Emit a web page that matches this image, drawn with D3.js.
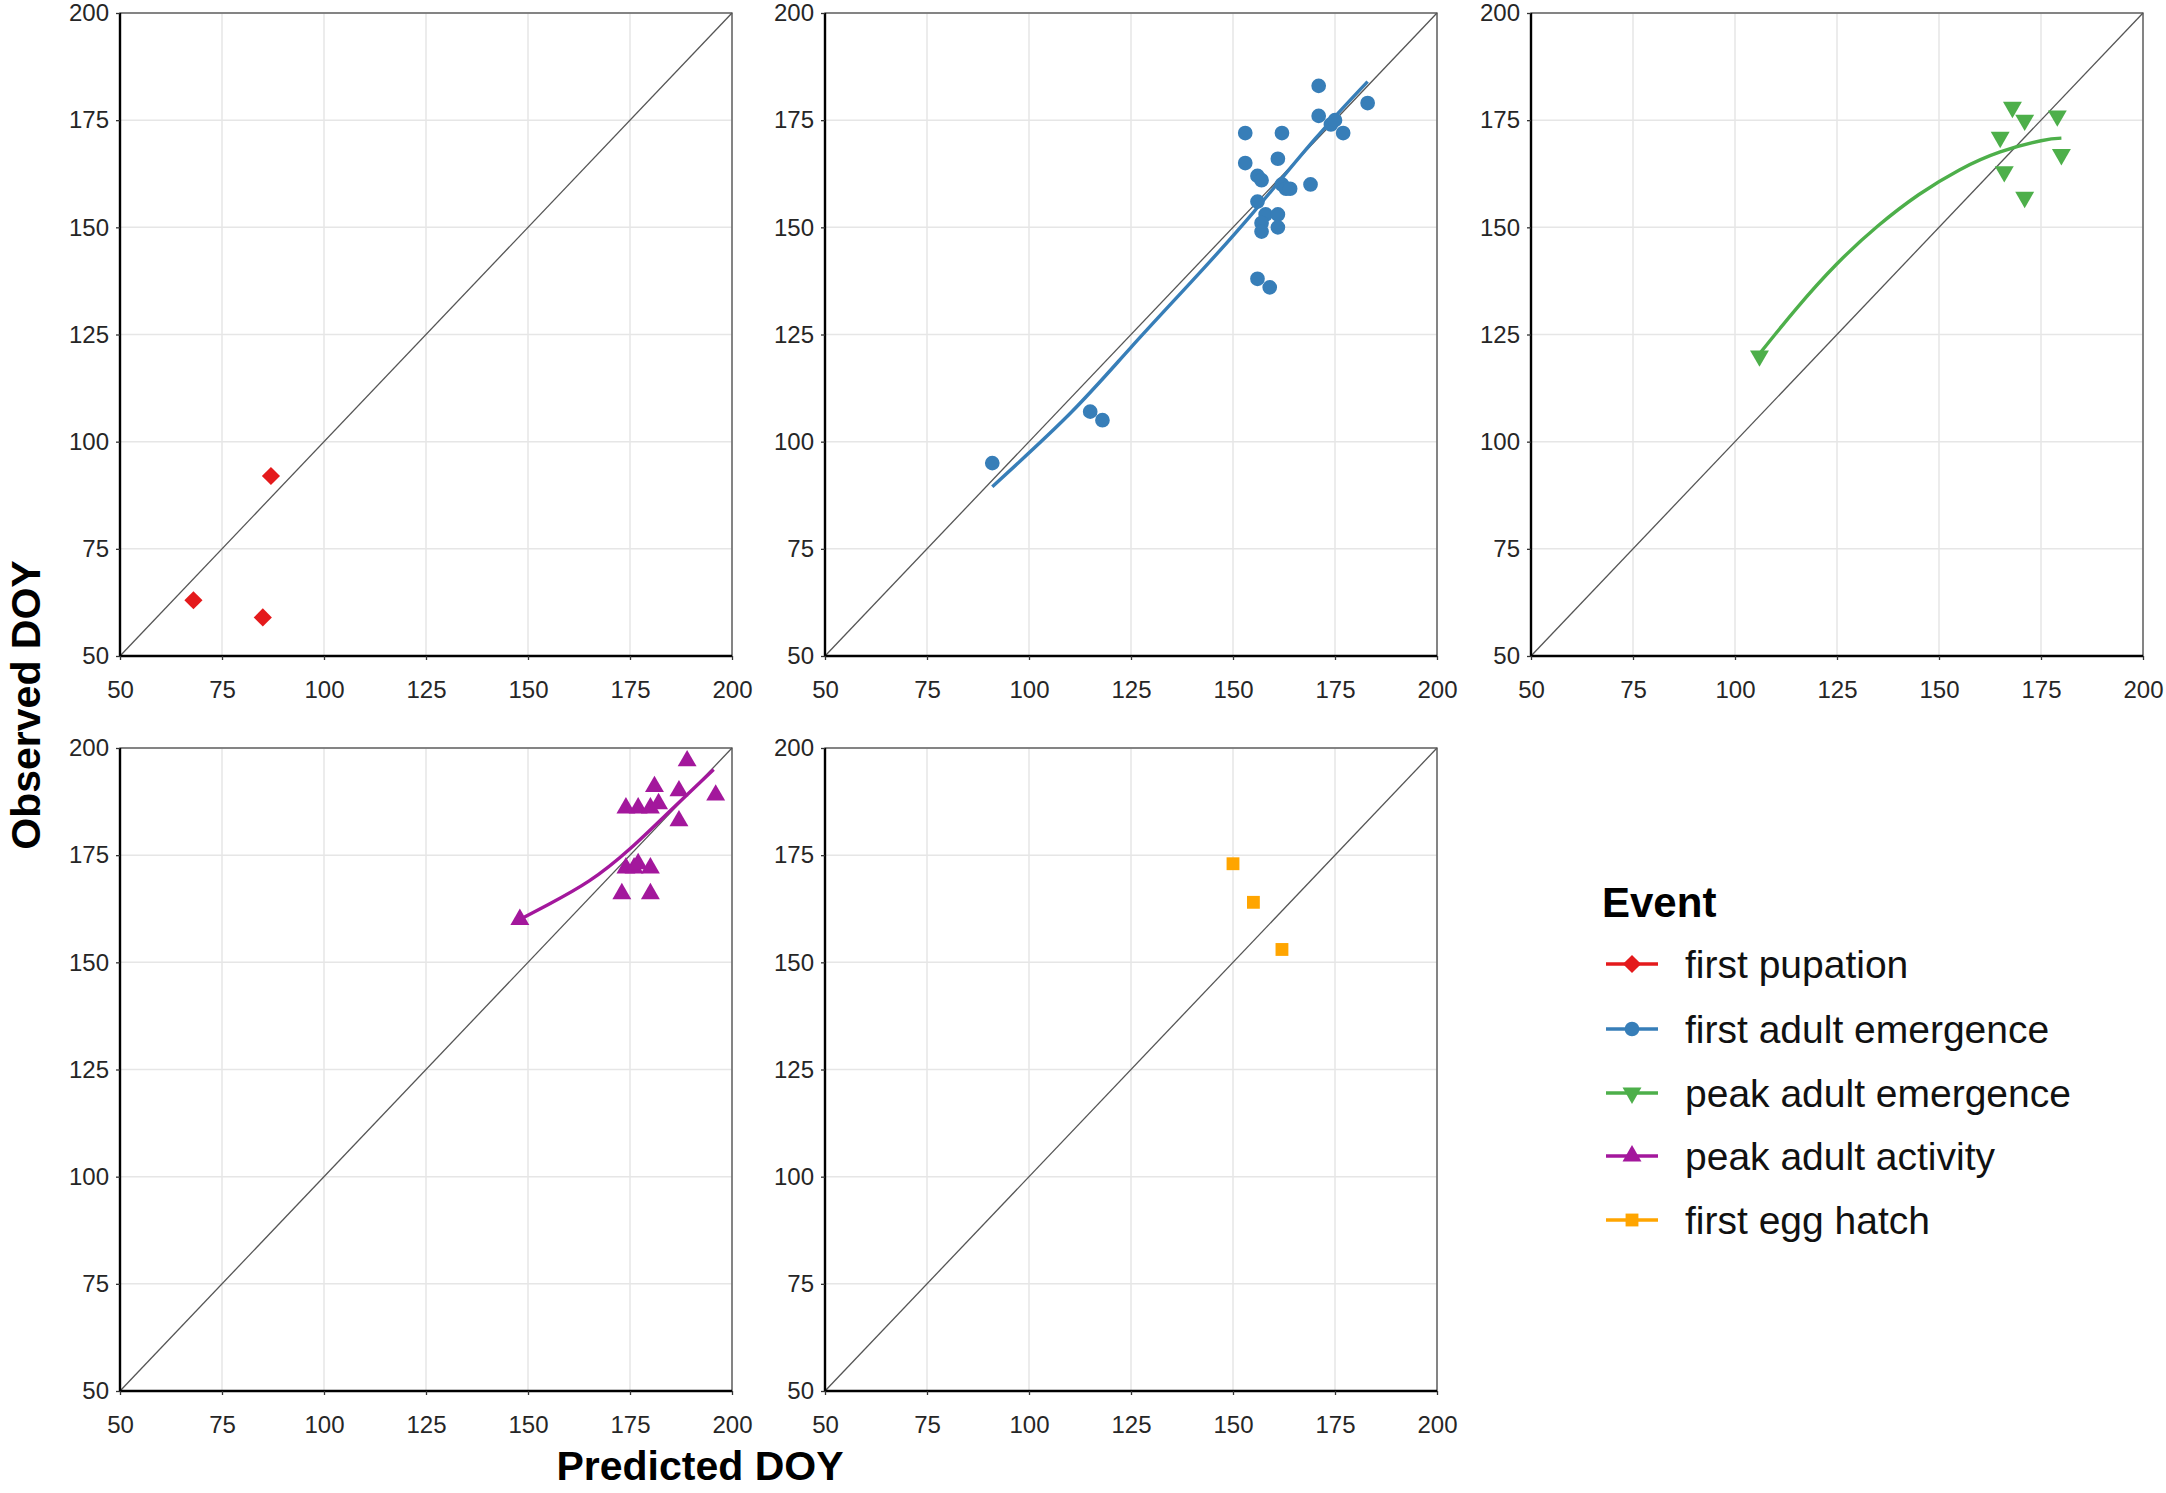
<!DOCTYPE html>
<html>
<head>
<meta charset="utf-8">
<script src="https://cdn.jsdelivr.net/npm/d3@7"></script>
<style>
  body { margin: 0; background: #fff; }
  svg text { font-family: "Liberation Sans", Arial, sans-serif; }
</style>
</head>
<body>
<div id="chart"></div>
<script>
// values
var events = ['first pupation', 'first adult emergence', 'peak adult emergence', 'peak adult activity', 'first egg hatch'];
var eventColors = ['#E41A1C', '#377EB8', '#4DAF4A', '#A3179C', '#FFA500'];
var axisTicks = [50, 75, 100, 125, 150, 175, 200];

// [predicted, observed]
var pupationPts = [[68, 63], [85, 59], [87, 92]];
var adultEmergePts = [
  [91, 95], [115, 107], [118, 105], [153, 172], [153, 165], [156, 162], [157, 161],
  [156, 156], [158, 153], [157, 151], [157, 149], [156, 138], [159, 136], [161, 166],
  [162, 172], [161, 153], [161, 150], [162, 160], [163, 159], [164, 159], [169, 160],
  [171, 183], [171, 176], [174, 174], [175, 175], [177, 172], [183, 179]
];
var peakEmergePts = [[106, 120], [168, 178], [171, 175], [179, 176], [165, 171], [180, 167], [166, 163], [171, 157]];
var peakActivityPts = [
  [148, 160], [189, 197], [181, 191], [187, 190], [196, 189], [174, 186], [177, 186],
  [180, 186], [182, 187], [187, 183], [174, 172], [176, 172], [177, 173], [180, 172],
  [173, 166], [180, 166]
];
var eggHatchPts = [[150, 173], [155, 164], [162, 153]];

// fitted curves
var adultEmergeFit = [[91, 89.5], [110, 106.5], [125, 122], [140, 137.5], [155, 153.5], [170, 170.5], [183, 184]];
var peakEmergeFit = [[106, 120.5], [115, 131], [125, 141.5], [135, 150.3], [145, 157.6], [155, 163.4], [165, 167.6], [175, 170.2], [180, 170.8]];
var peakActivityFit = [[148, 160], [155, 163.5], [165, 169], [175, 176.5], [185, 185.5], [195.5, 195]];

var width = 2166, height = 1493;
var panelW = 612, panelH = 643;
var colLeft = [120, 825, 1531];
var rowTop = [13, 748];

var symbols = [
  { type: d3.symbolSquare, size: 165, rotate: 45 },
  { type: d3.symbolCircle, size: 170, rotate: 0 },
  { type: d3.symbolTriangle, size: 155, rotate: 180 },
  { type: d3.symbolTriangle, size: 155, rotate: 0 },
  { type: d3.symbolSquare, size: 165, rotate: 0 }
];

var panels = [
  { ev: 0, pts: pupationPts, fit: null, col: 0, row: 0 },
  { ev: 1, pts: adultEmergePts, fit: adultEmergeFit, col: 1, row: 0 },
  { ev: 2, pts: peakEmergePts, fit: peakEmergeFit, col: 2, row: 0 },
  { ev: 3, pts: peakActivityPts, fit: peakActivityFit, col: 0, row: 1 },
  { ev: 4, pts: eggHatchPts, fit: null, col: 1, row: 1 }
];

var svg = d3.select('#chart').append('svg')
  .attr('width', width)
  .attr('height', height);

svg.append('rect').attr('width', width).attr('height', height).attr('fill', '#fff');

var x = d3.scaleLinear().domain([50, 200]).range([0, panelW]);
var y = d3.scaleLinear().domain([50, 200]).range([panelH, 0]);

function symbolPath(i) {
  return d3.symbol().type(symbols[i].type).size(symbols[i].size)();
}

panels.forEach(function(p) {
  var g = svg.append('g')
    .attr('transform', 'translate(' + colLeft[p.col] + ',' + rowTop[p.row] + ')');

  // grid
  g.selectAll('.vgrid').data(axisTicks).enter().append('line')
    .attr('x1', function(d) { return x(d); }).attr('x2', function(d) { return x(d); })
    .attr('y1', 0).attr('y2', panelH)
    .attr('stroke', '#e6e6e6').attr('stroke-width', 1.5);
  g.selectAll('.hgrid').data(axisTicks).enter().append('line')
    .attr('y1', function(d) { return y(d); }).attr('y2', function(d) { return y(d); })
    .attr('x1', 0).attr('x2', panelW)
    .attr('stroke', '#e6e6e6').attr('stroke-width', 1.5);

  // panel border
  g.append('rect')
    .attr('width', panelW).attr('height', panelH)
    .attr('fill', 'none').attr('stroke', '#4d4d4d').attr('stroke-width', 1.3);

  // 1:1 line
  g.append('line')
    .attr('x1', x(50)).attr('y1', y(50)).attr('x2', x(200)).attr('y2', y(200))
    .attr('stroke', '#555').attr('stroke-width', 1.3);

  // axes
  var xAxis = g.append('g')
    .attr('transform', 'translate(0,' + panelH + ')')
    .call(d3.axisBottom(x).tickValues(axisTicks).tickSize(4).tickPadding(21));
  var yAxis = g.append('g')
    .call(d3.axisLeft(y).tickValues(axisTicks).tickSize(4).tickPadding(7));

  [xAxis, yAxis].forEach(function(a) {
    a.select('.domain').attr('stroke', '#000').attr('stroke-width', 2.4);
    a.selectAll('.tick line').attr('stroke', '#333').attr('stroke-width', 1.3);
    a.selectAll('.tick text')
      .attr('fill', '#262626')
      .style('font-size', '24px')
      .style('font-family', '"Liberation Sans", Arial, sans-serif');
  });
  xAxis.select('.domain').attr('d', 'M0,0H' + panelW);
  yAxis.select('.domain').attr('d', 'M0,0V' + panelH);

  // fitted curve
  if (p.fit) {
    g.append('path')
      .datum(p.fit)
      .attr('d', d3.line()
        .x(function(d) { return x(d[0]); })
        .y(function(d) { return y(d[1]); })
        .curve(d3.curveNatural))
      .attr('fill', 'none')
      .attr('stroke', eventColors[p.ev])
      .attr('stroke-width', 3.4);
  }

  // points
  g.selectAll('.pt').data(p.pts).enter().append('path')
    .attr('d', symbolPath(p.ev))
    .attr('transform', function(d) {
      return 'translate(' + x(d[0]) + ',' + y(d[1]) + ') rotate(' + symbols[p.ev].rotate + ')';
    })
    .attr('fill', eventColors[p.ev]);
});

// axis titles
svg.append('text')
  .attr('x', 700).attr('y', 1480)
  .attr('text-anchor', 'middle')
  .style('font-size', '41px').style('font-weight', 'bold')
  .text('Predicted DOY');

svg.append('text')
  .attr('transform', 'translate(40,705) rotate(-90)')
  .attr('text-anchor', 'middle')
  .style('font-size', '41px').style('font-weight', 'bold')
  .text('Observed DOY');

// legend
var legend = svg.append('g').attr('transform', 'translate(1602,0)');
legend.append('text')
  .attr('x', 0).attr('y', 917)
  .style('font-size', '42px').style('font-weight', 'bold')
  .text('Event');

var legendY = [964, 1029, 1093, 1156, 1220];
events.forEach(function(ev, i) {
  var row = legend.append('g').attr('transform', 'translate(0,' + legendY[i] + ')');
  row.append('line')
    .attr('x1', 4).attr('x2', 56).attr('y1', 0).attr('y2', 0)
    .attr('stroke', eventColors[i]).attr('stroke-width', 3.4);
  row.append('path')
    .attr('d', symbolPath(i))
    .attr('transform', 'translate(30,0) rotate(' + symbols[i].rotate + ')')
    .attr('fill', eventColors[i]);
  row.append('text')
    .attr('x', 83).attr('y', 0).attr('dy', '0.36em')
    .style('font-size', '39px')
    .attr('fill', '#111')
    .text(ev);
});
</script>
</body>
</html>
